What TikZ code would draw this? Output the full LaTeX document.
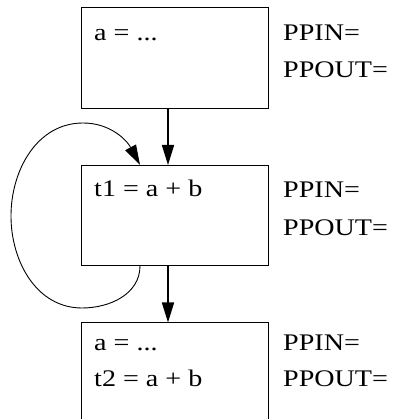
\documentclass[tikz,border=0pt]{standalone}
\usepackage{fontspec}
\setmainfont{Liberation Serif}[FakeStretch=1.18]
\usetikzlibrary{positioning,arrows.meta}

\begin{document}
\begin{tikzpicture}
            [x=1bp,y=1bp,every node/.style={inner sep=0pt, font=\fontsize{23.8bp}{28bp}\selectfont},
             block/.style={draw, line width=1bp, minimum width=186bp, minimum height=100bp},
             txt/.style={anchor=base west},
             flow/.style={line width=1.6bp, -{Triangle[length=20bp,width=12bp]}},
             back/.style={line width=0.9bp, -{Triangle[length=20bp,width=12bp]}}]
            \useasboundingbox (0,0) rectangle (393,419);
            \node[block] (b1) at (175,361) {};
            \node[block] (b2) at (175,203.5) {};
            \node[block] (b3) at (175,46) {};

            \node[txt] (s1) at (94,379) {a = ...};
            \node[txt] (s2) at (94,223) {t1 = a + b};
            \node[txt] (s3) at (94,69) {a = ...};
            \node[txt] (s4) at (94,33) {t2 = a + b};

            \node[txt] (in1) at (283,379) {PPIN=};
            \node[txt] (out1) at (283,342) {PPOUT=};
            \node[txt] (in2) at (283,222) {PPIN=};
            \node[txt] (out2) at (283,184) {PPOUT=};
            \node[txt] (in3) at (283,69) {PPIN=};
            \node[txt] (out3) at (283,33) {PPOUT=};

            \coordinate (lpbot) at (82,111);
            \coordinate (lpleft) at (11,203);
            \coordinate (lptop) at (83,296);

            \foreach \from/\to in {b1/b2, b2/b3}
            \draw[flow] ([xshift=-7bp]\from.south) -- ([xshift=-7bp]\to.north);
            \draw[back] ([xshift=-35bp]b2.south) to[out=-90,in=0] (lpbot) to[out=180,in=-90] (lpleft)
              to[out=90,in=180] (lptop) to[out=0,in=118] ([xshift=-35bp]b2.north);
          \end{tikzpicture}
\end{document}
